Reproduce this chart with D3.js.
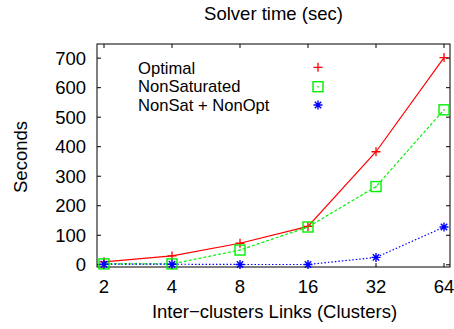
<!DOCTYPE html>
<html><head><meta charset="utf-8">
<script src="https://cdn.jsdelivr.net/npm/d3@7"></script>
<style>body{margin:0;background:#fff}svg{display:block}text{font-family:"Liberation Sans",Arial,sans-serif;}</style>
</head><body><svg id="c" width="454" height="329"></svg>
<script>
const categories = [2, 4, 8, 16, 32, 64];
const optimal = [10, 30, 73, 130, 383, 702];
const nonSaturated = [3, 3, 50, 128, 265, 525];
const nonSatNonOpt = [2, 2, 1, 1, 25, 128];
const yTicks = [0, 100, 200, 300, 400, 500, 600, 700];
const seriesNames = ["Optimal", "NonSaturated", "NonSat + NonOpt"];
const seriesColors = ["#ff0000", "#00f000", "#0000ff"];

const FS = 18.5;
const LFS = 16.6;
const svg = d3.select("#c");
const L = 97, R = 450, T = 44, B = 267;
const x = d3.scaleLog().base(2).domain([Math.pow(2, 0.897), Math.pow(2, 6.088)]).range([L, R]);
const y = d3.scaleLinear().domain([-7.5, 748]).range([B, T]);

// frame
svg.append("rect").attr("x", L).attr("y", T).attr("width", R - L).attr("height", B - T)
  .attr("fill", "none").attr("stroke", "#000").attr("stroke-width", 1);

// y ticks (mirrored)
const tk = 4;
yTicks.forEach(v => {
  const yy = y(v);
  svg.append("line").attr("x1", L).attr("x2", L + tk).attr("y1", yy).attr("y2", yy).attr("stroke", "#000");
  svg.append("line").attr("x1", R).attr("x2", R - tk).attr("y1", yy).attr("y2", yy).attr("stroke", "#000");
  svg.append("text").attr("x", L - 11).attr("y", yy + 6.5).attr("text-anchor", "end")
    .attr("font-size", FS).text(v);
});
categories.forEach(v => {
  const xx = x(v);
  svg.append("line").attr("x1", xx).attr("x2", xx).attr("y1", B).attr("y2", B - tk).attr("stroke", "#000");
  svg.append("line").attr("x1", xx).attr("x2", xx).attr("y1", T).attr("y2", T + tk).attr("stroke", "#000");
  svg.append("text").attr("x", xx).attr("y", 293).attr("text-anchor", "middle")
    .attr("font-size", FS).text(v);
});

// titles
svg.append("text").attr("x", (L + R) / 2).attr("y", 20).attr("text-anchor", "middle").attr("font-size", FS).text("Solver time (sec)");
svg.append("text").attr("x", (L + R) / 2 + 1).attr("y", 318).attr("text-anchor", "middle").attr("font-size", FS).text("Inter\u2212clusters Links (Clusters)");
svg.append("text").attr("transform", "translate(27,157) rotate(-90)").attr("text-anchor", "middle").attr("font-size", FS).text("Seconds");

function marker(g, kind, cx, cy, color) {
  if (kind === 0) {
    g.append("path").attr("d", `M${cx-4.5},${cy}H${cx+4.5}M${cx},${cy-4.5}V${cy+4.5}`).attr("stroke", color).attr("stroke-width", 1.3);
  } else if (kind === 1) {
    g.append("rect").attr("x", cx - 5).attr("y", cy - 5).attr("width", 10).attr("height", 10).attr("fill", "none").attr("stroke", color).attr("stroke-width", 1.4);
    g.append("rect").attr("x", cx - 0.7).attr("y", cy - 0.7).attr("width", 1.4).attr("height", 1.4).attr("fill", color);
  } else {
    const r = 4.5, d = 3.2;
    g.append("path").attr("d", `M${cx-r},${cy}H${cx+r}M${cx},${cy-r}V${cy+r}M${cx-d},${cy-d}L${cx+d},${cy+d}M${cx-d},${cy+d}L${cx+d},${cy-d}`)
      .attr("stroke", color).attr("stroke-width", 1.4);
  }
}

const allSeries = [optimal, nonSaturated, nonSatNonOpt];
const dashes = [null, "3,2", "1.5,2"];
const line = d3.line().x((d, i) => x(categories[i])).y(d => y(d));
allSeries.forEach((s, k) => {
  svg.append("path").attr("d", line(s)).attr("fill", "none").attr("stroke", seriesColors[k])
    .attr("stroke-width", 1.2).attr("stroke-dasharray", dashes[k]);
});
allSeries.forEach((s, k) => {
  const g = svg.append("g");
  s.forEach((v, i) => marker(g, k, x(categories[i]), y(v), seriesColors[k]));
});

// legend
const legBase = [73.6, 92.3, 111];
const legMark = [67.3, 86.7, 105];
seriesNames.forEach((n, k) => {
  svg.append("text").attr("x", 138).attr("y", legBase[k]).attr("font-size", LFS).text(n);
  marker(svg.append("g"), k, 318, legMark[k], seriesColors[k]);
});
</script></body></html>
